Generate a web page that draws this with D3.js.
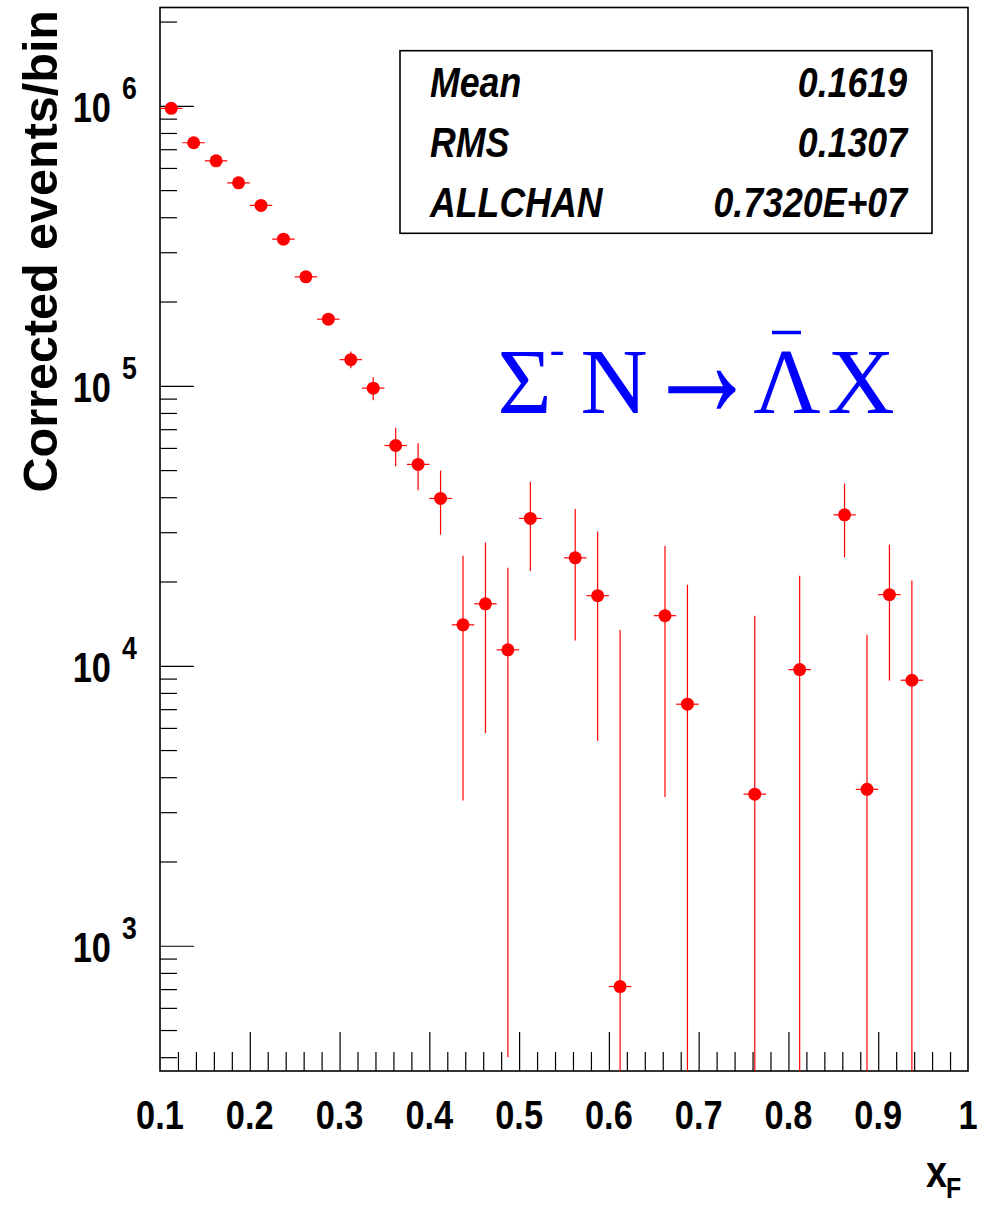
<!DOCTYPE html>
<html>
<head>
<meta charset="utf-8">
<script src="https://cdn.jsdelivr.net/npm/d3@7"></script>
<style>
  body { margin: 0; background: #fff; }
  svg { display: block; }
</style>
</head>
<body>
<div id="chart"></div>
<script>
// bin centres (xF), corrected counts and their errors, bin width 0.025
var xF = [0.1125, 0.1375, 0.1625, 0.1875, 0.2125, 0.2375, 0.2625, 0.2875, 0.3125, 0.3375,
          0.3625, 0.3875, 0.4125, 0.4375, 0.4625, 0.4875, 0.5125, 0.5625, 0.5875, 0.6125,
          0.6625, 0.6875, 0.7625, 0.8125, 0.8625, 0.8875, 0.9125, 0.9375];
var counts = [980000, 738000, 636000, 531000, 441000, 334000, 245000, 173000, 124000, 98100,
              61200, 52400, 39600, 14000, 16650, 11400, 33600, 24300, 17800, 715,
              15100, 7290, 3480, 9690, 34600, 3620, 17950, 8880];
var errors = [4000, 4500, 5000, 5500, 6000, 6500, 7000, 7500, 8500, 9300,
              9600, 10000, 10200, 10700, 10900, 11000, 11800, 12000, 12400, 12700,
              11700, 12200, 11600, 11300, 10200, 9300, 9100, 11300];
var binWidth = 0.025;

var xMajor = [0.1, 0.2, 0.3, 0.4, 0.5, 0.6, 0.7, 0.8, 0.9, 1];
var xLabels = ['0.1', '0.2', '0.3', '0.4', '0.5', '0.6', '0.7', '0.8', '0.9', '1'];
var yDecades = [3, 4, 5, 6];
var statNames = ['Mean', 'RMS', 'ALLCHAN'];
var statValues = ['0.1619', '0.1307', '0.7320E+07'];

var W = 989, H = 1205;
var pL = 160, pR = 968, pT = 7.5, pB = 1071;

var svg = d3.select('#chart').append('svg')
  .attr('width', W)
  .attr('height', H)
  .style('background-color', '#fff');

var x = d3.scaleLinear().domain([0.1, 1]).range([pL, pR]);
var y = d3.scaleLog().domain([357, 2.245e6]).range([pB, pT]);

// minor ticks
var xMinor = d3.range(0.12, 1.0, 0.02).filter(function (v) {
  return Math.abs(v * 10 - Math.round(v * 10)) > 1e-6;
});
var yMinor = [];
[2, 3, 4, 5, 6].forEach(function (e) {
  d3.range(2, 10).forEach(function (m) {
    var v = m * Math.pow(10, e);
    if (v > 357 && v < 2.245e6) yMinor.push(v);
  });
});
var yMajor = yDecades.map(function (e) { return Math.pow(10, e); });

// axes (ticks point inward)
svg.append('g')
  .attr('transform', 'translate(0,' + pB + ')')
  .call(d3.axisBottom(x).tickValues(xMajor.slice(1, -1)).tickSize(-39).tickFormat(''))
  .call(function (g) { g.select('.domain').remove(); });
svg.append('g')
  .attr('transform', 'translate(0,' + pB + ')')
  .call(d3.axisBottom(x).tickValues(xMinor).tickSize(-19).tickFormat(''))
  .call(function (g) { g.select('.domain').remove(); });
svg.append('g')
  .attr('transform', 'translate(' + pL + ',0)')
  .call(d3.axisLeft(y).tickValues(yMajor).tickSize(-34).tickFormat(''))
  .call(function (g) { g.select('.domain').remove(); });
svg.append('g')
  .attr('transform', 'translate(' + pL + ',0)')
  .call(d3.axisLeft(y).tickValues(yMinor).tickSize(-17).tickFormat(''))
  .call(function (g) { g.select('.domain').remove(); });
svg.selectAll('.tick line').attr('stroke', '#000').attr('stroke-width', 1.2);

// frame
svg.append('rect')
  .attr('x', pL).attr('y', pT)
  .attr('width', pR - pL).attr('height', pB - pT)
  .attr('fill', 'none').attr('stroke', '#000').attr('stroke-width', 1.6);

// x tick labels
svg.selectAll('.xlab').data(xMajor).enter().append('text')
  .attr('class', 'xlab')
  .attr('transform', function (d) { return 'translate(' + x(d) + ',1129) scale(0.86,1)'; })
  .attr('text-anchor', 'middle')
  .attr('font-family', 'Liberation Sans, Arial, sans-serif')
  .attr('font-weight', 'bold')
  .attr('font-size', 40)
  .text(function (d, i) { return xLabels[i]; });

// y tick labels: 10 with exponent
var ylab = svg.selectAll('.ylab').data(yDecades).enter().append('g').attr('class', 'ylab');
ylab.append('text')
  .attr('transform', function (d) { return 'translate(111,' + (y(Math.pow(10, d)) + 16) + ') scale(0.82,1)'; })
  .attr('text-anchor', 'end')
  .attr('font-family', 'Liberation Sans, Arial, sans-serif')
  .attr('font-weight', 'bold')
  .attr('font-size', 42)
  .text('10');
ylab.append('text')
  .attr('transform', function (d) { return 'translate(122,' + (y(Math.pow(10, d)) - 7) + ') scale(0.86,1)'; })
  .attr('font-family', 'Liberation Sans, Arial, sans-serif')
  .attr('font-weight', 'bold')
  .attr('font-size', 31)
  .text(function (d) { return d; });

// axis titles
svg.append('text')
  .attr('transform', 'translate(57,10) rotate(-90)')
  .attr('text-anchor', 'end')
  .attr('font-family', 'Liberation Sans, Arial, sans-serif')
  .attr('font-weight', 'bold')
  .attr('font-size', 48.5)
  .text('Corrected events/bin');
svg.append('text')
  .attr('transform', 'translate(926,1187) scale(0.86,1)')
  .attr('font-family', 'Liberation Sans, Arial, sans-serif')
  .attr('font-weight', 'bold')
  .attr('font-size', 44)
  .text('x');
svg.append('text')
  .attr('transform', 'translate(946,1198) scale(0.86,1)')
  .attr('font-family', 'Liberation Sans, Arial, sans-serif')
  .attr('font-weight', 'bold')
  .attr('font-size', 29)
  .text('F');

// data points with error bars
svg.append('clipPath').attr('id', 'frameClip')
  .append('rect').attr('x', pL).attr('y', pT)
  .attr('width', pR - pL).attr('height', pB - pT);
var plot = svg.append('g').attr('clip-path', 'url(#frameClip)');

var pts = xF.map(function (c, i) { return { c: c, v: counts[i], e: errors[i] }; });

plot.selectAll('.ebx').data(pts).enter().append('line')
  .attr('x1', function (d) { return x(d.c - binWidth / 2); })
  .attr('x2', function (d) { return x(d.c + binWidth / 2); })
  .attr('y1', function (d) { return y(d.v); })
  .attr('y2', function (d) { return y(d.v); })
  .attr('stroke', '#ff0000').attr('stroke-width', 1.2);
plot.selectAll('.eby').data(pts).enter().append('line')
  .attr('x1', function (d) { return x(d.c); })
  .attr('x2', function (d) { return x(d.c); })
  .attr('y1', function (d) { return y(d.v + d.e); })
  .attr('y2', function (d) { return d.v - d.e > 0 ? y(d.v - d.e) : pB + 5; })
  .attr('stroke', '#ff0000').attr('stroke-width', 1.2);
plot.selectAll('circle').data(pts).enter().append('circle')
  .attr('cx', function (d) { return x(d.c); })
  .attr('cy', function (d) { return y(d.v); })
  .attr('r', 6.5)
  .attr('fill', '#ff0000');

// statistics box
svg.append('rect')
  .attr('x', 400).attr('y', 50.7)
  .attr('width', 532).attr('height', 182.6)
  .attr('fill', '#fff').attr('stroke', '#000').attr('stroke-width', 1.6);
statNames.forEach(function (n, i) {
  var by = 96.7 + i * 60.3;
  svg.append('text')
    .attr('transform', 'translate(430,' + by + ') scale(0.85,1)')
    .attr('font-family', 'Liberation Sans, Arial, sans-serif')
    .attr('font-weight', 'bold').attr('font-style', 'italic')
    .attr('font-size', 42)
    .text(n);
  svg.append('text')
    .attr('transform', 'translate(907,' + by + ') scale(0.85,1)')
    .attr('text-anchor', 'end')
    .attr('font-family', 'Liberation Sans, Arial, sans-serif')
    .attr('font-weight', 'bold').attr('font-style', 'italic')
    .attr('font-size', 42)
    .text(statValues[i]);
});

// reaction label
var rx = svg.append('g')
  .attr('fill', '#0000ff')
  .attr('font-family', 'Liberation Serif, Times New Roman, serif')
  .attr('font-size', 93);
rx.append('text').attr('x', 524.5).attr('y', 413).attr('text-anchor', 'middle').text('\u03A3');
rx.append('text').attr('x', 557).attr('y', 364).attr('text-anchor', 'middle').attr('font-size', 45).text('-');
rx.append('text').attr('x', 614).attr('y', 413).attr('text-anchor', 'middle').text('N');
rx.append('text').attr('transform', 'translate(702,417) scale(1.22,1.75)')
  .attr('text-anchor', 'middle')
  .text('\u2192');
rx.append('text').attr('x', 787).attr('y', 413).attr('text-anchor', 'middle').text('\u039B');
rx.append('line').attr('x1', 772).attr('x2', 801).attr('y1', 332.5).attr('y2', 332.5)
  .attr('stroke', '#0000ff').attr('stroke-width', 3.5);
rx.append('text').attr('x', 861).attr('y', 413).attr('text-anchor', 'middle').text('X');
</script>
</body>
</html>
